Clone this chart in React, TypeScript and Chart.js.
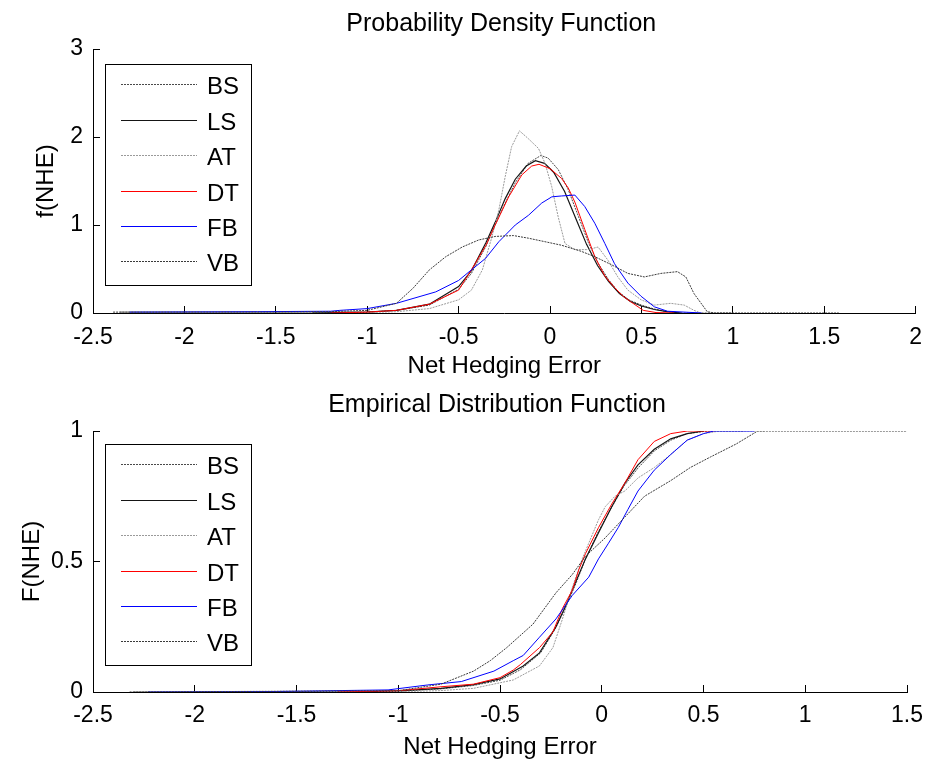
import React, { useEffect, useRef } from "react";
import { Chart, registerables } from "chart.js";

Chart.register(...registerables);

type Pt = [number, number];

const FONT = '"Liberation Sans", Arial, Helvetica, sans-serif';

// ---------- names ----------
const seriesNames = ["BS", "LS", "AT", "DT", "FB", "VB"];

// ---------- Probability Density Function (x = net hedging error, y = f(NHE)) ----------
const pdfBS: Pt[] = [[-2.35, 0.01], [-1.5, 0.01], [-1.0, 0.01], [-0.84, 0.03], [-0.66, 0.09], [-0.5, 0.27], [-0.43, 0.45], [-0.35, 0.76], [-0.3, 1.0], [-0.245, 1.25], [-0.19, 1.48], [-0.12, 1.7], [-0.05, 1.79], [-0.01, 1.76], [0.045, 1.63], [0.1, 1.4], [0.155, 1.1], [0.21, 0.8], [0.265, 0.56], [0.32, 0.38], [0.37, 0.25], [0.43, 0.15], [0.5, 0.09], [0.57, 0.045], [0.64, 0.015], [0.72, 0.0], [1.0, 0.0]];
const pdfLS: Pt[] = [[-1.3, 0.0], [-1.0, 0.01], [-0.84, 0.03], [-0.66, 0.1], [-0.5, 0.3], [-0.43, 0.48], [-0.35, 0.8], [-0.3, 1.03], [-0.245, 1.3], [-0.19, 1.52], [-0.13, 1.67], [-0.08, 1.73], [-0.03, 1.7], [0.02, 1.6], [0.08, 1.38], [0.14, 1.08], [0.2, 0.78], [0.26, 0.54], [0.32, 0.36], [0.38, 0.22], [0.44, 0.13], [0.5, 0.08], [0.57, 0.04], [0.64, 0.015], [0.72, 0.0]];
const pdfAT: Pt[] = [[-1.1, 0.0], [-0.84, 0.015], [-0.66, 0.05], [-0.5, 0.15], [-0.43, 0.26], [-0.37, 0.49], [-0.317, 0.87], [-0.28, 1.17], [-0.245, 1.55], [-0.21, 1.89], [-0.167, 2.07], [-0.118, 1.98], [-0.063, 1.87], [-0.027, 1.7], [0.009, 1.44], [0.045, 1.09], [0.082, 0.79], [0.136, 0.72], [0.208, 0.72], [0.263, 0.75], [0.317, 0.6], [0.371, 0.41], [0.426, 0.26], [0.498, 0.15], [0.571, 0.09], [0.66, 0.11], [0.734, 0.09], [0.788, 0.03], [0.824, 0.0]];
const pdfDT: Pt[] = [[-1.2, 0.0], [-1.0, 0.01], [-0.84, 0.03], [-0.66, 0.1], [-0.5, 0.26], [-0.43, 0.49], [-0.35, 0.77], [-0.3, 1.0], [-0.226, 1.32], [-0.154, 1.57], [-0.1, 1.67], [-0.06, 1.69], [0.0, 1.64], [0.063, 1.53], [0.1, 1.42], [0.136, 1.26], [0.19, 0.95], [0.245, 0.64], [0.3, 0.42], [0.353, 0.29], [0.4, 0.19], [0.44, 0.13], [0.51, 0.03], [0.58, 0.005], [0.68, 0.0]];
const pdfFB: Pt[] = [[-2.3, 0.01], [-1.6, 0.015], [-1.2, 0.02], [-1.15, 0.03], [-1.0, 0.05], [-0.84, 0.11], [-0.625, 0.24], [-0.5, 0.37], [-0.43, 0.49], [-0.353, 0.62], [-0.28, 0.81], [-0.19, 1.0], [-0.118, 1.11], [-0.045, 1.25], [0.01, 1.32], [0.063, 1.33], [0.136, 1.34], [0.19, 1.21], [0.245, 1.02], [0.3, 0.79], [0.353, 0.56], [0.426, 0.34], [0.498, 0.19], [0.571, 0.07], [0.643, 0.02], [0.83, 0.0]];
const pdfVB: Pt[] = [[-2.39, 0.01], [-1.5, 0.01], [-1.2, 0.015], [-1.0, 0.03], [-0.84, 0.11], [-0.75, 0.28], [-0.66, 0.49], [-0.57, 0.64], [-0.48, 0.75], [-0.39, 0.83], [-0.3, 0.87], [-0.2, 0.88], [-0.118, 0.85], [-0.027, 0.81], [0.063, 0.77], [0.172, 0.7], [0.245, 0.64], [0.335, 0.55], [0.426, 0.45], [0.516, 0.41], [0.607, 0.45], [0.697, 0.47], [0.743, 0.41], [0.788, 0.22], [0.86, 0.015], [0.9, 0.0], [1.58, 0.0]];

// ---------- Empirical Distribution Function (y = F(NHE)) ----------
const cdfBS: Pt[] = [[-2.3, 0.0], [-1.0, 0.003], [-0.79, 0.012], [-0.63, 0.025], [-0.5, 0.045], [-0.4, 0.085], [-0.3, 0.15], [-0.23, 0.24], [-0.18, 0.32], [-0.13, 0.41], [-0.08, 0.51], [-0.02, 0.61], [0.05, 0.71], [0.11, 0.79], [0.18, 0.86], [0.26, 0.925], [0.34, 0.965], [0.42, 0.99], [0.52, 1.0], [0.7, 1.0]];
const cdfLS: Pt[] = [[-1.2, 0.0], [-1.0, 0.004], [-0.79, 0.014], [-0.63, 0.028], [-0.5, 0.05], [-0.386, 0.1], [-0.306, 0.15], [-0.225, 0.25], [-0.177, 0.33], [-0.129, 0.42], [-0.08, 0.51], [-0.016, 0.61], [0.049, 0.71], [0.113, 0.8], [0.178, 0.87], [0.258, 0.93], [0.339, 0.97], [0.42, 0.99], [0.5, 1.0]];
const cdfAT: Pt[] = [[-1.1, 0.0], [-0.8, 0.005], [-0.63, 0.014], [-0.435, 0.046], [-0.306, 0.1], [-0.24, 0.17], [-0.193, 0.28], [-0.145, 0.4], [-0.096, 0.51], [-0.064, 0.57], [-0.016, 0.66], [0.017, 0.71], [0.065, 0.75], [0.113, 0.77], [0.178, 0.82], [0.258, 0.86], [0.339, 0.91], [0.42, 0.965], [0.5, 0.99], [0.58, 1.0], [0.8, 1.0]];
const cdfDT: Pt[] = [[-1.3, 0.0], [-1.0, 0.005], [-0.79, 0.02], [-0.63, 0.03], [-0.5, 0.055], [-0.435, 0.084], [-0.4, 0.105], [-0.306, 0.17], [-0.24, 0.23], [-0.193, 0.32], [-0.145, 0.39], [-0.112, 0.47], [-0.08, 0.53], [-0.016, 0.63], [0.049, 0.72], [0.113, 0.8], [0.178, 0.89], [0.258, 0.96], [0.339, 0.99], [0.42, 1.0], [0.55, 1.0]];
const cdfFB: Pt[] = [[-2.23, 0.0], [-1.6, 0.002], [-1.05, 0.008], [-0.855, 0.027], [-0.69, 0.04], [-0.53, 0.08], [-0.435, 0.12], [-0.386, 0.14], [-0.306, 0.21], [-0.225, 0.28], [-0.145, 0.37], [-0.064, 0.44], [-0.016, 0.51], [0.033, 0.57], [0.081, 0.63], [0.129, 0.7], [0.178, 0.77], [0.258, 0.85], [0.339, 0.91], [0.42, 0.965], [0.5, 0.99], [0.55, 1.0], [0.75, 1.0]];
const cdfVB: Pt[] = [[-2.32, 0.0], [-1.0, 0.005], [-0.79, 0.03], [-0.63, 0.08], [-0.548, 0.12], [-0.467, 0.17], [-0.338, 0.26], [-0.225, 0.38], [-0.145, 0.45], [-0.08, 0.52], [0.016, 0.59], [0.113, 0.67], [0.21, 0.75], [0.339, 0.81], [0.435, 0.86], [0.533, 0.9], [0.66, 0.95], [0.766, 1.0], [1.5, 1.0]];

// ---------- ticks ----------
const pdfXTicks = [-2.5, -2, -1.5, -1, -0.5, 0, 0.5, 1, 1.5, 2];
const pdfXLabels = ["-2.5", "-2", "-1.5", "-1", "-0.5", "0", "0.5", "1", "1.5", "2"];
const pdfYTicks = [0, 1, 2, 3];
const pdfYLabels = ["0", "1", "2", "3"];
const cdfXTicks = [-2.5, -2, -1.5, -1, -0.5, 0, 0.5, 1, 1.5];
const cdfXLabels = ["-2.5", "-2", "-1.5", "-1", "-0.5", "0", "0.5", "1", "1.5"];
const cdfYTicks = [0, 0.5, 1];
const cdfYLabels = ["0", "0.5", "1"];

// ---------- styles ----------
const lineStyles = [
  { color: "#4a4a4a", dash: [2, 1], width: 1 },
  { color: "#151515", dash: [] as number[], width: 1.2 },
  { color: "#9a9a9a", dash: [2, 1], width: 1 },
  { color: "#ff0000", dash: [] as number[], width: 1 },
  { color: "#0000ff", dash: [] as number[], width: 1 },
  { color: "#3a3a3a", dash: [2, 1], width: 1 },
];

const boxLegend = {
  id: "boxLegend",
  afterDraw(chart: any, _args: any, opts: any) {
    const ctx = chart.ctx as CanvasRenderingContext2D;
    const { x, y, w, h, rowStart, rowGap, lineX1, lineX2, textX, title, titleY } = opts;
    const area = chart.chartArea;
    ctx.save();
    // title centred over the plot area
    ctx.fillStyle = "#000000";
    ctx.font = `25px ${FONT}`;
    ctx.textAlign = "center";
    ctx.textBaseline = "middle";
    ctx.fillText(title, (area.left + area.right) / 2 - 3, titleY);
    // legend box
    ctx.fillStyle = "#ffffff";
    ctx.fillRect(x, y, w, h);
    ctx.strokeStyle = "#000000";
    ctx.lineWidth = 1;
    ctx.setLineDash([]);
    ctx.strokeRect(x + 0.5, y + 0.5, w, h);
    seriesNames.forEach((name, i) => {
      const st = lineStyles[i];
      const ly = Math.round(y + rowStart + i * rowGap) + 0.5;
      ctx.beginPath();
      ctx.strokeStyle = st.color;
      ctx.lineWidth = st.width;
      ctx.setLineDash(st.dash);
      ctx.moveTo(lineX1, ly);
      ctx.lineTo(lineX2, ly);
      ctx.stroke();
      ctx.setLineDash([]);
      ctx.fillStyle = "#000000";
      ctx.font = `24px ${FONT}`;
      ctx.textBaseline = "middle";
      ctx.textAlign = "left";
      ctx.fillText(name, textX, ly + 2.5);
    });
    ctx.restore();
  },
};

function makeConfig(p: {
  title: string;
  titleY: number;
  topPad: number;
  yLabel: string;
  yLabelPad: number;
  series: Pt[][];
  xMin: number;
  xMax: number;
  yMin: number;
  yMax: number;
  xTicks: number[];
  xLabels: string[];
  yTicks: number[];
  yLabels: string[];
  xAxisHeight: number;
  xTickPad: number;
  legendY: number;
}): any {
  return {
    type: "scatter",
    data: {
      datasets: p.series.map((pts, i) => ({
        label: seriesNames[i],
        data: pts.map(([x, y]) => ({ x, y })),
        borderColor: lineStyles[i].color,
        borderWidth: lineStyles[i].width,
        borderDash: lineStyles[i].dash,
        showLine: true,
        pointRadius: 0,
        fill: false,
        tension: 0,
        order: p.series.length - i,
      })),
    },
    options: {
      animation: false,
      responsive: false,
      maintainAspectRatio: false,
      devicePixelRatio: 1,
      layout: { padding: { left: 0, right: 20, top: p.topPad, bottom: 0 } },
      plugins: {
        legend: { display: false },
        tooltip: { enabled: false },
        title: { display: false },
        boxLegend: {
          title: p.title,
          titleY: p.titleY,
          x: 105,
          y: p.legendY,
          w: 146,
          h: 221,
          rowStart: 20.3,
          rowGap: 35.4,
          lineX1: 121,
          lineX2: 197,
          textX: 207,
        },
      },
      scales: {
        x: {
          type: "linear",
          position: "bottom",
          min: p.xMin,
          max: p.xMax,
          afterBuildTicks: (s: any) => {
            s.ticks = p.xTicks.map((v) => ({ value: v }));
          },
          afterFit: (s: any) => {
            s.height = p.xAxisHeight;
          },
          ticks: {
            callback: (_v: any, i: number) => p.xLabels[i],
            font: { family: FONT, size: 23 },
            color: "#000",
            padding: p.xTickPad,
            maxRotation: 0,
            autoSkip: false,
          },
          grid: { drawOnChartArea: false, drawTicks: true, tickLength: -7, color: "#000", tickColor: "#000" },
          border: { display: true, color: "#000", width: 1 },
          title: {
            display: true,
            text: "Net Hedging Error",
            color: "#000",
            font: { family: FONT, size: 24 },
            padding: { top: 0, bottom: 0 },
          },
        },
        y: {
          type: "linear",
          position: "left",
          min: p.yMin,
          max: p.yMax,
          afterBuildTicks: (s: any) => {
            s.ticks = p.yTicks.map((v) => ({ value: v }));
          },
          afterFit: (s: any) => {
            s.width = 93;
          },
          ticks: {
            callback: (_v: any, i: number) => p.yLabels[i],
            font: { family: FONT, size: 23 },
            color: "#000",
            padding: 17,
            autoSkip: false,
          },
          grid: { drawOnChartArea: false, drawTicks: true, tickLength: -7, color: "#000", tickColor: "#000" },
          border: { display: true, color: "#000", width: 1 },
          title: {
            display: true,
            text: p.yLabel,
            color: "#000",
            font: { family: FONT, size: 24 },
            padding: { top: p.yLabelPad, bottom: 0 },
          },
        },
      },
    },
    plugins: [boxLegend],
  };
}

function ChartCanvas({ config, top }: { config: any; top: number }) {
  const ref = useRef<HTMLCanvasElement | null>(null);
  useEffect(() => {
    if (!ref.current) return;
    const chart = new Chart(ref.current, config);
    return () => chart.destroy();
  }, [config]);
  return (
    <canvas
      ref={ref}
      width={940}
      height={381}
      style={{ position: "absolute", left: 0, top, width: 940, height: 381, display: "block" }}
    />
  );
}

const pdfConfig = makeConfig({
  title: "Probability Density Function",
  titleY: 24.5,
  topPad: 49,
  yLabel: "f(NHE)",
  yLabelPad: 32,
  series: [pdfBS, pdfLS, pdfAT, pdfDT, pdfFB, pdfVB],
  xMin: -2.5,
  xMax: 2,
  yMin: 0,
  yMax: 3,
  xTicks: pdfXTicks,
  xLabels: pdfXLabels,
  yTicks: pdfYTicks,
  yLabels: pdfYLabels,
  xAxisHeight: 68,
  xTickPad: 18,
  legendY: 64,
});

const cdfConfig = makeConfig({
  title: "Empirical Distribution Function",
  titleY: 24,
  topPad: 50,
  yLabel: "F(NHE)",
  yLabelPad: 18,
  series: [cdfBS, cdfLS, cdfAT, cdfDT, cdfFB, cdfVB],
  xMin: -2.5,
  xMax: 1.5,
  yMin: 0,
  yMax: 1,
  xTicks: cdfXTicks,
  xLabels: cdfXLabels,
  yTicks: cdfYTicks,
  yLabels: cdfYLabels,
  xAxisHeight: 70,
  xTickPad: 17,
  legendY: 63,
});

export default function App() {
  return (
    <div style={{ position: "absolute", left: 0, top: 0, width: 940, height: 762, background: "#fff" }}>
      <ChartCanvas config={pdfConfig} top={0} />
      <ChartCanvas config={cdfConfig} top={381} />
    </div>
  );
}
